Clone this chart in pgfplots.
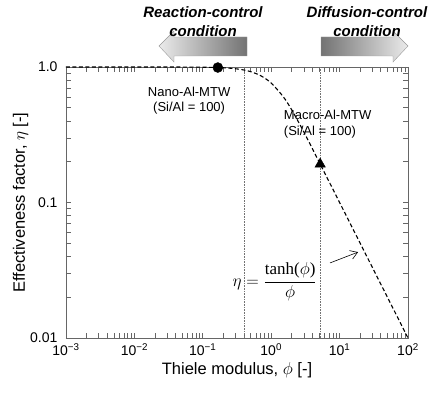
\documentclass[border=0pt]{standalone}
\usepackage{fontspec}
\setmainfont{Liberation Sans}
\newfontfamily\serif{Liberation Serif}
\usepackage{pgfplots}
\pgfplotsset{compat=1.18}
\usetikzlibrary{arrows.meta}
\begin{document}
\begin{tikzpicture}
\begin{axis}[
  scale only axis, width=342pt, height=271pt,
  xmode=log, ymode=log,
  xmin=1e-3, xmax=1e2, ymin=0.01, ymax=1,
  axis line style={black!60, line width=0.8pt},
  tick style={black!60, line width=0.6pt},
  major tick length=5pt, minor tick length=5pt,
  tick align=inside,
  xtick={1e-3,1e-2,1e-1,1,1e1,1e2},
  xticklabels={10\textsuperscript{−3},10\textsuperscript{−2},10\textsuperscript{−1},10\textsuperscript{0},10\textsuperscript{1},10\textsuperscript{2}},
  ytick={0.01,0.1,1},
  yticklabels={0.01,0.1,1.0},
  ticklabel style={font=\fontsize{14}{16}\selectfont},
  yticklabel style={xshift=-5pt},
  xticklabel style={yshift=-2pt},
  xlabel={Thiele modulus, $\phi$ [-]},
  ylabel={Effectiveness factor, $\eta$ [-]},
  label style={font=\fontsize{16.5}{19}\selectfont},
  ylabel shift=-5pt,
  clip=false,
]
\addplot[black!55, densely dotted, line width=0.6pt] coordinates {(0.4,0.01) (0.4,1)};
\addplot[black!55, densely dotted, line width=0.6pt] coordinates {(5.2,0.01) (5.2,1)};
\addplot[black, line width=1.1pt, dash pattern=on 4pt off 2.5pt, smooth] coordinates {
(0.001,1.0) (0.01,0.99997) (0.05,0.99917) (0.1,0.99668) (0.2,0.98688) (0.3,0.97104) (0.4,0.94999) (0.5,0.92423) (0.7,0.86338) (1,0.76159) (1.5,0.60343) (2,0.48201) (3,0.33169) (5,0.19998) (7,0.14286) (10,0.1) (20,0.05) (50,0.02) (100,0.01)};
\addplot[only marks, mark=*, mark size=5pt, black] coordinates {(0.166,0.991)};
\addplot[only marks, mark=triangle*, mark size=6pt, black] coordinates {(5.2,0.192)};
\node[align=center, font=\fontsize{13}{15.5}\selectfont] at (rel axis cs:0.36,0.876) {Nano-Al-MTW\\(Si/Al = 100)};
\node[align=left, anchor=west, font=\fontsize{13}{16.5}\selectfont] at (rel axis cs:0.627,0.79) {Macro-Al-MTW\\(Si/Al = 100)};
\node[font=\fontsize{17}{20}\selectfont] at (rel axis cs:0.61,0.207) {$\displaystyle\mbox{\serif\itshape$\eta$} = \frac{\mbox{\serif tanh($\phi$)}}{\phi}$};
\draw[-{Straight Barb[length=7pt,width=9pt]}, line width=0.6pt] (rel axis cs:0.772,0.277) -- (rel axis cs:0.854,0.317);
\end{axis}
% top arrows
\begin{scope}[shift={(current axis.north west)}]
\shade[left color=black!8, right color=black!55, draw=black!40, line width=0.4pt]
  (93pt,21pt) -- (108pt,36pt) -- (108pt,30pt) -- (181pt,30pt) -- (181pt,11pt) -- (108pt,11pt) -- (108pt,5pt) -- cycle;
\shade[left color=black!55, right color=black!8, draw=black!40, line width=0.4pt]
  (342pt,21pt) -- (327pt,36pt) -- (327pt,30pt) -- (255pt,30pt) -- (255pt,11pt) -- (327pt,11pt) -- (327pt,5pt) -- cycle;
\node[font=\fontsize{15}{19}\selectfont\bfseries\itshape, align=center] at (137pt,45pt) {Reaction-control\\condition};
\node[font=\fontsize{15}{19}\selectfont\bfseries\itshape, align=center] at (301pt,45pt) {Diffusion-control\\condition};
\end{scope}
\pgfresetboundingbox
\path ([shift={(-66pt,-55pt)}]current axis.south west) rectangle ([shift={(20pt,67pt)}]current axis.north east);
\end{tikzpicture}
\end{document}
